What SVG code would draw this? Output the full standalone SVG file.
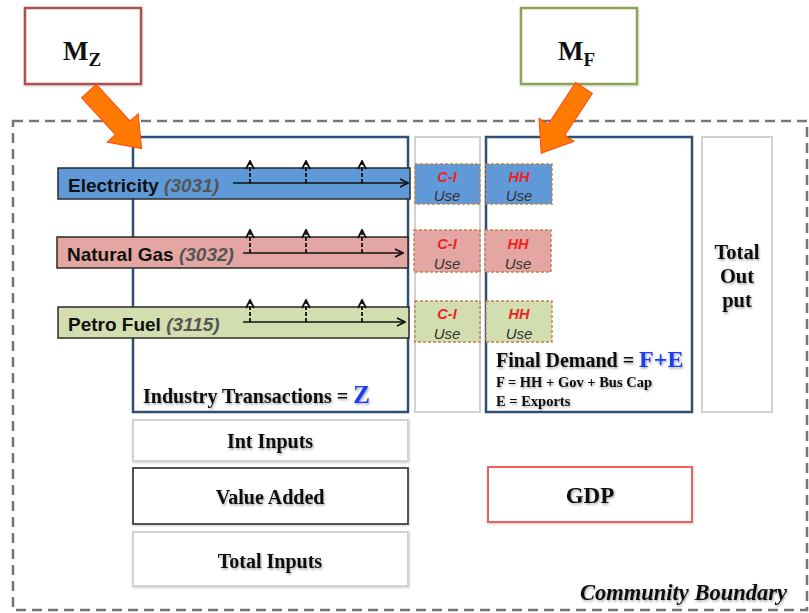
<svg xmlns="http://www.w3.org/2000/svg" width="809" height="613" viewBox="0 0 809 613">
  <defs>
    <marker id="chev" viewBox="0 0 10 10" refX="9" refY="5" markerWidth="10" markerHeight="10" markerUnits="userSpaceOnUse" orient="auto">
      <path d="M1,1 L9,5 L1,9" fill="none" stroke="#111" stroke-width="1.8"/>
    </marker>
    <filter id="soft" x="-10%" y="-30%" width="120%" height="160%">
      <feDropShadow dx="1" dy="1.5" stdDeviation="1.2" flood-color="#000" flood-opacity="0.35"/>
    </filter>
    <filter id="boxsh" x="-5%" y="-10%" width="110%" height="120%">
      <feDropShadow dx="0.5" dy="1" stdDeviation="1" flood-color="#000" flood-opacity="0.2"/>
    </filter>
  </defs>
  <style>
    .serif { font-family: "Liberation Serif", "Times New Roman", serif; font-weight: bold; fill: #111; }
    .sans { font-family: "Liberation Sans", Arial, sans-serif; }
    .lbl { font-weight: bold; font-size: 19px; fill: #111; }
    .code { font-style: italic; font-weight: bold; font-size: 19px; fill: #555; }
    .ci { font-style: italic; font-weight: bold; font-size: 14.5px; fill: #ee2222; }
    .use { font-style: italic; font-size: 15px; fill: #333; }
    .blue { fill: #1a3cf5; }
    .frame { fill: #fff; stroke: #2d5073; stroke-width: 2.5; }
    .col { fill: #fff; stroke: #d2d2d2; stroke-width: 2; }
    .cell { stroke: #c08048; stroke-width: 1.4; stroke-dasharray: 3 2; }
    .bar { stroke: #2a2a2a; stroke-width: 1.5; }
    .flow { stroke: #111; stroke-width: 1.4; fill: none; marker-end: url(#chev); }
    .up { stroke: #111; stroke-width: 1.8; stroke-dasharray: 4 2; fill: none; marker-end: url(#chev); }
    .big { stroke: #ff4a1a; stroke-width: 1; fill: #ff7a00; }
    .elec { fill: #5f99d8; }
    .gas { fill: #e3a6a2; }
    .pet { fill: #d2ddb0; }
  </style>

  <!-- community boundary -->
  <rect x="13" y="121" width="794" height="489" fill="none" stroke="#767676" stroke-width="2.5" stroke-dasharray="10 6"/>
  <text class="serif" x="787" y="600" font-size="22.5" font-style="italic" text-anchor="end" filter="url(#soft)">Community Boundary</text>

  <!-- multiplier boxes -->
  <g id="mz">
    <rect x="25" y="8" width="116" height="76" fill="#fff" stroke="#a9524e" stroke-width="2.5" filter="url(#boxsh)"/>
    <text class="serif" x="63" y="60" font-size="27">M<tspan font-size="19" dy="6">Z</tspan></text>
  </g>
  <g id="mf">
    <rect x="521" y="8" width="116" height="76" fill="#fff" stroke="#8ca552" stroke-width="2.5" filter="url(#boxsh)"/>
    <text class="serif" x="558" y="60" font-size="27">M<tspan font-size="19" dy="6">F</tspan></text>
  </g>

  <!-- columns -->
  <g id="industry">
    <rect class="frame" x="133" y="137" width="275" height="275"/>
    <text class="serif" x="143" y="403" font-size="20" filter="url(#soft)">Industry Transactions = <tspan class="blue" font-size="25">Z</tspan></text>
  </g>
  <g id="ci-col">
    <rect class="col" x="415" y="137" width="65" height="275"/>
  </g>
  <g id="final-demand">
    <rect class="frame" x="486" y="137" width="206" height="275"/>
    <text class="serif" x="496" y="367" font-size="20" filter="url(#soft)">Final Demand = <tspan class="blue" font-size="24">F+E</tspan></text>
    <text class="serif" x="496" y="387" font-size="14.5" filter="url(#soft)">F = HH + Gov + Bus Cap</text>
    <text class="serif" x="496" y="406" font-size="14.5" filter="url(#soft)">E = Exports</text>
  </g>
  <g id="total-output">
    <rect class="col" x="702" y="137" width="70" height="275"/>
    <text class="serif" x="737" y="259" font-size="20.5" text-anchor="middle" filter="url(#soft)">Total</text>
    <text class="serif" x="737" y="283" font-size="20.5" text-anchor="middle" filter="url(#soft)">Out</text>
    <text class="serif" x="737" y="307" font-size="20.5" text-anchor="middle" filter="url(#soft)">put</text>
  </g>

  <!-- sector bars -->
  <g id="electricity" class="sans">
    <rect class="bar elec" x="58" y="168" width="352" height="31"/>
    <text x="68" y="192"><tspan class="lbl">Electricity </tspan><tspan class="code">(3031)</tspan></text>
  </g>
  <g id="natural-gas" class="sans">
    <rect class="bar gas" x="57" y="237" width="351" height="31"/>
    <text x="67" y="261"><tspan class="lbl">Natural Gas </tspan><tspan class="code">(3032)</tspan></text>
  </g>
  <g id="petro-fuel" class="sans">
    <rect class="bar pet" x="58" y="307" width="351" height="31"/>
    <text x="68" y="331"><tspan class="lbl">Petro Fuel </tspan><tspan class="code">(3115)</tspan></text>
  </g>

  <!-- use cells -->
  <g id="ci-elec" class="sans">
    <rect class="cell elec" x="415" y="164" width="65" height="40"/>
    <text class="ci" x="447" y="182" text-anchor="middle">C-I</text>
    <text class="use" x="447" y="201" text-anchor="middle">Use</text>
  </g>
  <g id="ci-gas" class="sans">
    <rect class="cell gas" x="414" y="230" width="66" height="42"/>
    <text class="ci" x="447" y="249" text-anchor="middle">C-I</text>
    <text class="use" x="447" y="269" text-anchor="middle">Use</text>
  </g>
  <g id="ci-pet" class="sans">
    <rect class="cell pet" x="415" y="301" width="65" height="41"/>
    <text class="ci" x="447" y="319" text-anchor="middle">C-I</text>
    <text class="use" x="447" y="339" text-anchor="middle">Use</text>
  </g>
  <g id="hh-elec" class="sans">
    <rect class="cell elec" x="486" y="164" width="66" height="40"/>
    <text class="ci" x="519" y="182" text-anchor="middle">HH</text>
    <text class="use" x="519" y="201" text-anchor="middle">Use</text>
  </g>
  <g id="hh-gas" class="sans">
    <rect class="cell gas" x="485" y="230" width="66" height="42"/>
    <text class="ci" x="518" y="249" text-anchor="middle">HH</text>
    <text class="use" x="518" y="269" text-anchor="middle">Use</text>
  </g>
  <g id="hh-pet" class="sans">
    <rect class="cell pet" x="486" y="301" width="66" height="41"/>
    <text class="ci" x="519" y="319" text-anchor="middle">HH</text>
    <text class="use" x="519" y="339" text-anchor="middle">Use</text>
  </g>

  <!-- bottom rows -->
  <g id="int-inputs">
    <rect class="col" x="133" y="420" width="275" height="41" filter="url(#boxsh)"/>
    <text class="serif" x="270" y="448" font-size="20" text-anchor="middle" filter="url(#soft)">Int Inputs</text>
  </g>
  <g id="value-added">
    <rect x="133" y="468" width="275" height="56" fill="#fff" stroke="#444" stroke-width="1.8" filter="url(#boxsh)"/>
    <text class="serif" x="270" y="504" font-size="20" text-anchor="middle" filter="url(#soft)">Value Added</text>
  </g>
  <g id="total-inputs">
    <rect class="col" x="133" y="532" width="275" height="54" filter="url(#boxsh)"/>
    <text class="serif" x="270" y="568" font-size="20" text-anchor="middle" filter="url(#soft)">Total Inputs</text>
  </g>
  <g id="gdp">
    <rect x="488" y="467" width="204" height="55" fill="#fff" stroke="#f0605a" stroke-width="2" filter="url(#boxsh)"/>
    <text class="serif" x="590" y="503" font-size="23" text-anchor="middle" filter="url(#soft)">GDP</text>
  </g>

  <!-- connectors -->
  <g id="connectors">
    <line class="flow" x1="233" y1="183" x2="408" y2="183"/>
    <line class="up" x1="250" y1="183" x2="250" y2="161"/>
    <line class="up" x1="306" y1="183" x2="306" y2="161"/>
    <line class="up" x1="362" y1="183" x2="362" y2="161"/>

    <line class="flow" x1="243" y1="253" x2="403" y2="253"/>
    <line class="up" x1="250" y1="253" x2="250" y2="230"/>
    <line class="up" x1="306" y1="253" x2="306" y2="230"/>
    <line class="up" x1="362" y1="253" x2="362" y2="230"/>

    <line class="flow" x1="243" y1="322" x2="405" y2="322"/>
    <line class="up" x1="250" y1="322" x2="250" y2="300"/>
    <line class="up" x1="306" y1="322" x2="306" y2="300"/>
    <line class="up" x1="362" y1="322" x2="362" y2="300"/>

    <!-- block arrows from the multipliers -->
    <polygon class="big" transform="translate(89,91) rotate(47.6)" points="0,-10 50,-10 50,-21 78,0 50,21 50,10 0,10"/>
    <polygon class="big" transform="translate(584,88) rotate(123.3)" points="0,-10 50,-10 50,-21 78,0 50,21 50,10 0,10"/>
  </g>
</svg>
